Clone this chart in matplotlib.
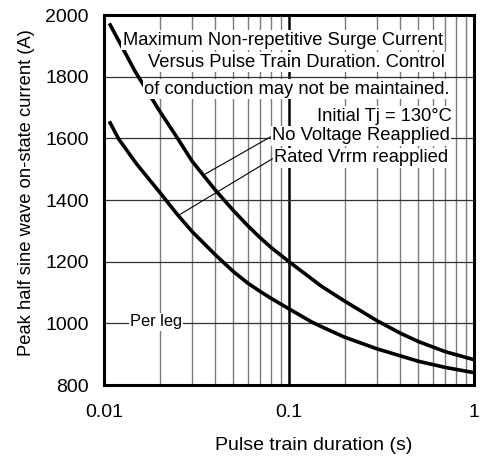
import matplotlib
matplotlib.use('Agg')
import matplotlib.pyplot as plt
from matplotlib.ticker import FixedLocator, NullFormatter

plt.rcParams['font.family'] = ['Liberation Sans', 'DejaVu Sans']

# curve readings (pulse train duration in s, peak current in A)
dur_no_voltage = [0.0108, 0.0147, 0.02, 0.025, 0.03, 0.04, 0.05, 0.06, 0.07, 0.08, 0.1,
                  0.15, 0.2, 0.3, 0.4, 0.5, 0.7, 1.0]
amp_no_voltage = [1968, 1818, 1688, 1600, 1525, 1432, 1366, 1316, 1277, 1246, 1200,
                  1120, 1072, 1008, 968, 941, 908, 882]

dur_rated = [0.0108, 0.012, 0.015, 0.02, 0.025, 0.03, 0.04, 0.05, 0.06, 0.07, 0.08, 0.1,
             0.133, 0.15, 0.2, 0.3, 0.5, 0.7, 1.0]
amp_rated = [1650, 1598, 1517, 1425, 1352, 1297, 1222, 1168, 1130, 1103, 1081, 1047,
             1004, 989, 955, 917, 877, 857, 840]

x_ticks = [0.01, 0.1, 1]
x_tick_labels = ['0.01', '0.1', '1']
y_ticks = [800, 1000, 1200, 1400, 1600, 1800, 2000]
minor_x = [k * 10.0 ** e for e in (-2, -1) for k in range(2, 10)]

note_lines = ['Maximum Non-repetitive Surge Current',
              'Versus Pulse Train Duration. Control',
              'of conduction may not be maintained.',
              'Initial Tj = 130\u00b0C']

W, H = 480, 462
fig = plt.figure(figsize=(W / 100, H / 100), dpi=100)
ax = fig.add_axes([104 / W, 1 - 385 / H, 370 / W, 370 / H])

ax.set_xscale('log')
ax.set_xlim(0.01, 1)
ax.set_ylim(800, 2000)
ax.set_xticks(x_ticks)
ax.set_xticklabels(x_tick_labels)
ax.set_yticks(y_ticks)
ax.xaxis.set_minor_locator(FixedLocator(minor_x))
ax.xaxis.set_minor_formatter(NullFormatter())
ax.tick_params(which='both', length=0, labelsize=14)
ax.tick_params(axis='y', pad=11)
ax.tick_params(axis='x', pad=14)

ax.grid(which='minor', axis='x', color='#7a7a7a', lw=1.0, zorder=1)
ax.grid(which='major', axis='y', color='#303030', lw=0.9, zorder=1)
ax.axvline(0.1, color='black', lw=1.8, zorder=1)

for s in ax.spines.values():
    s.set_linewidth(2.2)

ax.plot(dur_no_voltage, amp_no_voltage, color='black', lw=2.6, zorder=3,
        solid_joinstyle='round')
ax.plot(dur_rated, amp_rated, color='black', lw=2.6, zorder=3,
        solid_joinstyle='round')

box = dict(facecolor='white', edgecolor='none', pad=1)
note_pos = [(0.916, 0.932), (0.922, 0.872), (0.935, 0.80), (0.941, 0.727)]
for txt, (px, py) in zip(note_lines, note_pos):
    ax.text(px, py, txt, transform=ax.transAxes, ha='right', va='center',
            fontsize=13.2, bbox=box, zorder=4)

ax.annotate('No Voltage Reapplied', xy=(0.0352, 1484), xytext=(0.935, 0.673),
            textcoords='axes fraction', ha='right', va='center', fontsize=13.2,
            bbox=box, zorder=4,
            arrowprops=dict(arrowstyle='-', lw=0.8, color='black', relpos=(0, 0.5),
                            shrinkA=0, shrinkB=0))
ax.annotate('Rated Vrrm reapplied', xy=(0.0254, 1351), xytext=(0.93, 0.614),
            textcoords='axes fraction', ha='right', va='center', fontsize=13.2,
            bbox=box, zorder=4,
            arrowprops=dict(arrowstyle='-', lw=0.8, color='black', relpos=(0, 0.5),
                            shrinkA=0, shrinkB=0))

ax.text(0.0191, 1005, 'Per leg', ha='center', va='center', fontsize=11.8,
        bbox=box, zorder=4)

ax.set_xlabel('Pulse train duration (s)', fontsize=14)
ax.set_ylabel('Peak half sine wave on-state current (A)', fontsize=13.2)
ax.xaxis.set_label_coords(0.568, -0.141)
ax.yaxis.set_label_coords(-0.186, 0.52)

fig.savefig('out.png', dpi=100)
